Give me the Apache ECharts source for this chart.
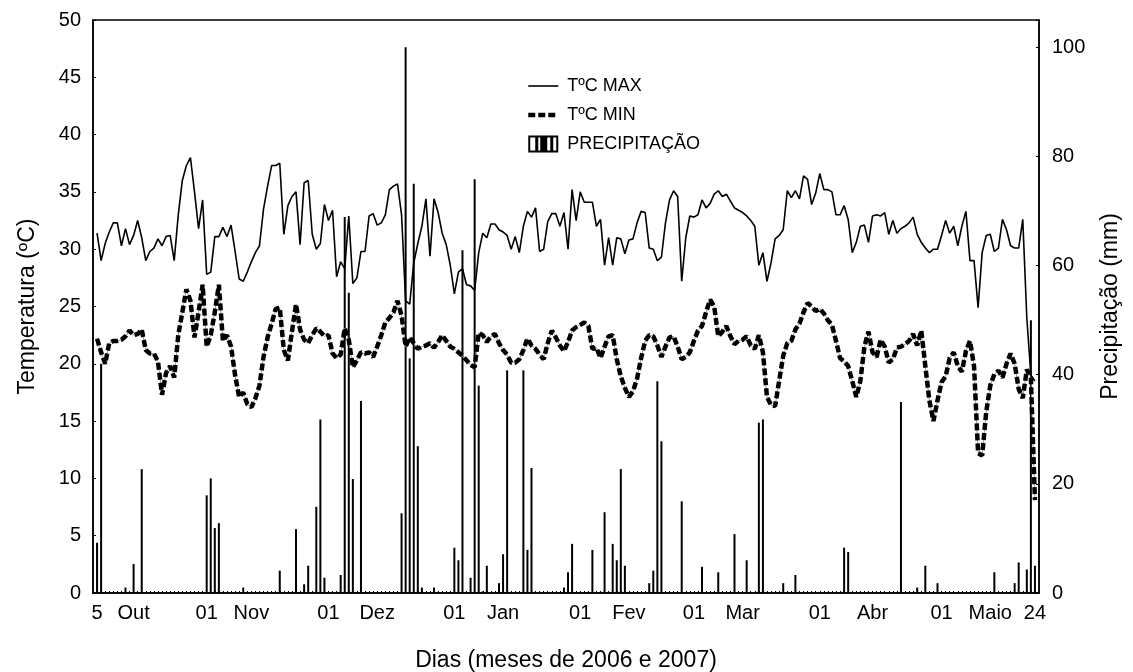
<!DOCTYPE html>
<html>
<head>
<meta charset="utf-8">
<script src="https://cdn.jsdelivr.net/npm/echarts@6/dist/echarts.min.js"></script>
<style>
html,body{margin:0;padding:0;background:#fff;}
#chart{width:1133px;height:672px;}
</style>
</head>
<body>
<div id="chart"></div>
<script>
// Daily series from 5 Oct 2006 (day 0) to 24 May 2007 (day 231)
const tmax = [
31.4,29.0,30.5,31.5,32.3,32.3,30.3,31.8,30.4,31.2,32.5,31.0,29.0,29.8,30.1,30.9,30.3,31.1,31.2,29.0,
33.0,36.0,37.3,38.0,35.0,31.8,34.3,27.8,28.0,31.1,31.1,31.9,31.1,32.1,29.8,27.4,27.2,28.0,28.9,29.7,
30.3,33.5,35.5,37.3,37.3,37.5,31.3,33.8,34.6,35.0,30.4,35.8,36.0,31.3,30.0,30.5,33.9,32.5,33.4,27.6,
28.9,28.3,32.9,27.0,27.5,29.8,29.8,32.9,33.1,32.1,32.3,33.0,35.2,35.5,35.7,33.0,25.5,25.2,28.8,30.5,
32.0,34.4,29.4,34.4,33.2,31.4,30.4,28.6,26.1,28.0,28.3,26.9,26.8,26.4,29.7,31.4,31.0,32.2,32.2,31.7,
31.5,31.2,30.0,31.1,29.7,32.0,33.3,32.8,33.6,29.8,30.0,32.4,33.1,33.1,32.0,33.2,30.0,35.2,32.5,35.0,
34.1,34.1,34.1,32.0,32.6,28.6,31.0,28.6,31.0,30.9,29.6,30.8,30.9,32.3,33.3,33.2,30.1,30.0,29.0,29.3,
32.3,34.3,35.1,34.6,27.2,31.0,32.9,32.8,33.0,34.3,33.6,34.0,34.8,35.1,34.6,34.8,34.2,33.6,33.4,33.2,
32.9,32.5,32.0,28.6,29.7,27.2,28.8,30.9,31.2,31.7,35.1,34.5,35.1,34.4,36.4,36.1,33.9,34.9,36.6,35.2,
35.2,35.0,33.0,33.0,33.8,32.6,29.7,30.6,32.0,32.1,30.6,32.9,33.0,32.9,33.2,31.3,32.5,31.4,31.8,32.0,
32.3,32.8,31.3,30.6,30.1,29.7,30.0,30.0,31.2,32.5,31.4,32.0,30.3,32.0,33.3,29.0,29.0,24.9,29.7,31.2,
31.3,29.8,30.1,32.6,31.7,30.3,30.1,30.1,32.6,24.0,19.0,18.5
];
const tmin = [
22.2,21.0,20.0,21.8,22.0,22.0,22.1,22.4,22.9,22.5,22.6,23.0,21.2,20.9,20.9,20.2,17.3,19.2,19.8,18.8,
22.5,24.5,26.5,25.5,22.3,24.5,26.9,21.5,22.5,24.5,26.9,22.0,22.5,21.5,19.0,17.1,17.5,16.5,16.2,17.0,
18.1,20.6,22.3,23.5,24.8,24.9,21.2,20.3,22.8,25.2,23.0,22.1,21.8,22.5,23.1,22.8,22.4,22.5,20.9,20.5,
20.8,23.1,22.1,19.7,20.3,21.0,20.9,21.0,20.6,21.5,22.5,23.6,24.0,24.5,25.5,24.2,21.5,22.3,21.8,21.3,
21.5,21.6,21.8,21.4,21.9,22.5,22.0,21.5,21.3,21.0,20.7,20.3,19.9,19.7,22.7,22.5,21.9,22.4,22.6,21.8,
21.2,20.8,20.1,20.1,20.4,21.2,22.2,21.6,21.3,20.8,20.4,21.8,22.9,22.3,21.6,21.1,21.9,22.9,23.2,23.4,
23.6,23.3,21.3,21.4,20.5,21.5,22.4,22.5,20.4,18.9,17.9,17.1,17.6,18.7,20.5,22.0,22.5,22.4,21.6,20.6,
21.5,22.3,22.4,21.5,20.4,20.6,21.0,22.0,22.9,23.3,24.5,25.6,25.0,22.4,22.8,23.3,22.4,21.7,22.0,22.1,
22.4,21.6,21.3,22.5,21.0,17.1,16.4,16.3,18.5,20.7,21.8,22.0,23.0,23.5,24.5,25.3,25.0,24.6,24.8,24.4,
23.8,23.4,22.0,20.5,20.2,19.8,18.5,17.1,18.5,21.5,22.8,21.0,20.6,22.1,21.5,20.1,20.4,21.4,21.5,21.7,
22.0,22.6,21.6,22.9,19.8,16.8,15.0,16.8,18.4,18.9,20.5,21.0,19.8,19.3,21.1,22.0,19.8,12.2,12.0,15.8,
18.1,19.1,19.4,18.8,20.0,20.9,20.0,17.8,17.0,19.5,18.8,8.1
];
const precip = [
9.2,42,0,0,0,0,0,1.0,0,5.3,0,22.7,0,0,0,0,0,0,0,0,
0,0,0,0,0,0,0,17.9,21.0,11.9,12.8,0,0,0,0,0,1.0,0,0,0,
0,0,0,0,0,4.1,0,0,0,11.7,0,1.6,5.0,0,15.8,31.8,2.8,0,0,0,
3.3,68.9,55,20.9,0,35.2,0,0,0,0,0,0,0,0,0,14.6,100,43,75,26.9,
1.0,0,0,1.0,0,0,0,0,8.3,6.0,62.8,0,2.8,75.8,38,0.3,5.0,0,0,1.8,
7.1,40.8,0,0,0,40.8,7.9,22.9,0,0,0,0,0,0,0,1.0,3.8,9.0,0,0,
0,0,7.9,0,0,14.8,0,9.0,6.0,22.7,5.0,0,0,0,0,0,1.8,4.1,38.8,27.8,
0,0,0,0,16.8,0,0,0,0,4.8,0,0,0,3.8,0,0,0,10.8,0,0,
6.0,0,0,31.2,31.8,0,0,0,0,1.8,0,0,3.3,0,0,0,0,0,0,0,
0,0,0,0,8.3,7.5,0,0,0,0,0,0,0,0,0,0,0,0,35,0,
0,0,1.0,0,5.0,0,0,1.8,0,0,0,0,0,0,0,0,0,0,0,0,
0,3.8,0,0,0,0,1.8,5.6,0,4.3,50,5.0
];
const xTickDays   = [0, 9, 27, 38, 57, 69, 88, 100, 119, 131, 147, 159, 178, 191, 208, 220, 231];
const xTickLabels = ['5','Out','01','Nov','01','Dez','01','Jan','01','Fev','01','Mar','01','Abr','01','Maio','24'];
const dayIndex = tmax.map((v, i) => i);

const FONT = 'Liberation Sans, Arial, sans-serif';
const chart = echarts.init(document.getElementById('chart'), null, {renderer: 'canvas'});
const barIcon = 'path://M0,0H30V17H0Z M2,2V15H7V2Z M10,2V15H12V2Z M19,2V15H22V2Z M25,2V15H28V2Z';
const hiddenSymbol = {opacity: 0, color: 'rgba(0,0,0,0)', borderWidth: 0};

chart.setOption({
  animation: false,
  backgroundColor: '#fff',
  textStyle: {fontFamily: FONT, color: '#000'},
  grid: {left: 93, right: 94, top: 20, bottom: 79, show: true, borderColor: '#000', borderWidth: 1.5,
         containLabel: false, outerBoundsMode: 'none'},
  legend: {
    orient: 'vertical', left: 521, top: 72, itemWidth: 30, itemHeight: 17, itemGap: 11,
    textStyle: {fontFamily: FONT, fontSize: 18, color: '#000', padding: [0, 0, 0, 4]},
    data: [
      {name: 'TºC MAX', itemStyle: hiddenSymbol, lineStyle: {color: '#000', width: 1.6}},
      {name: 'TºC MIN', itemStyle: hiddenSymbol, lineStyle: {color: '#000', width: 4.5, type: [7, 3]}},
      {name: 'PRECIPITAÇÃO', icon: barIcon, itemStyle: {color: '#000'}}
    ]
  },
  xAxis: {
    type: 'value', min: -1, max: 232,
    name: 'Dias (meses de 2006 e 2007)', nameLocation: 'middle', nameGap: 56,
    nameTextStyle: {fontFamily: FONT, fontSize: 23, color: '#000'},
    axisLine: {show: true, onZero: false, lineStyle: {color: '#000', width: 1.5}},
    axisTick: {show: true, inside: true, length: 2, customValues: dayIndex, lineStyle: {color: '#000', width: 1}},
    splitLine: {show: false},
    axisLabel: {
      customValues: xTickDays, margin: 10, fontFamily: FONT, fontSize: 20, color: '#000',
      formatter: v => xTickLabels[xTickDays.indexOf(v)]
    }
  },
  yAxis: [
    {
      type: 'value', min: 0, max: 50, interval: 5, position: 'left',
      name: 'Temperatura (ºC)', nameLocation: 'middle', nameGap: 54,
      nameTextStyle: {fontFamily: FONT, fontSize: 23, color: '#000'},
      axisLine: {show: true, onZero: false, lineStyle: {color: '#000', width: 1.5}},
      axisTick: {show: true, inside: true, length: 3, lineStyle: {color: '#000'}},
      splitLine: {show: false},
      axisLabel: {margin: 12, fontFamily: FONT, fontSize: 20, color: '#000'}
    },
    {
      type: 'value', min: 0, max: 105, interval: 20, position: 'right',
      name: 'Precipitação (mm)', nameLocation: 'middle', nameGap: 60,
      nameTextStyle: {fontFamily: FONT, fontSize: 23, color: '#000'},
      axisLine: {show: true, onZero: false, lineStyle: {color: '#000', width: 1.5}},
      axisTick: {show: true, inside: true, length: 3, lineStyle: {color: '#000'}},
      splitLine: {show: false},
      axisLabel: {margin: 13, fontFamily: FONT, fontSize: 20, color: '#000', formatter: v => v > 100 ? '' : String(v)}
    }
  ],
  series: [
    {
      name: 'PRECIPITAÇÃO', type: 'bar', yAxisIndex: 1, barWidth: 2,
      itemStyle: {color: '#000'},
      data: precip.map((v, i) => [i, v]), z: 1
    },
    {
      name: 'TºC MIN base', type: 'line', yAxisIndex: 0, symbol: 'none',
      itemStyle: {color: '#9a9a9a'},
      lineStyle: {color: '#9a9a9a', width: 1},
      data: tmin.map((v, i) => [i, v]), z: 2, silent: true
    },
    {
      name: 'TºC MIN', type: 'line', yAxisIndex: 0, symbol: 'none',
      itemStyle: {color: '#000'},
      lineStyle: {color: '#000', width: 4.5, type: [7, 3]},
      data: tmin.map((v, i) => [i, v]), z: 3
    },
    {
      name: 'TºC MAX', type: 'line', yAxisIndex: 0, symbol: 'none',
      itemStyle: {color: '#000'},
      lineStyle: {color: '#000', width: 1.6},
      data: tmax.map((v, i) => [i, v]), z: 4
    }
  ]
});
</script>
</body>
</html>
